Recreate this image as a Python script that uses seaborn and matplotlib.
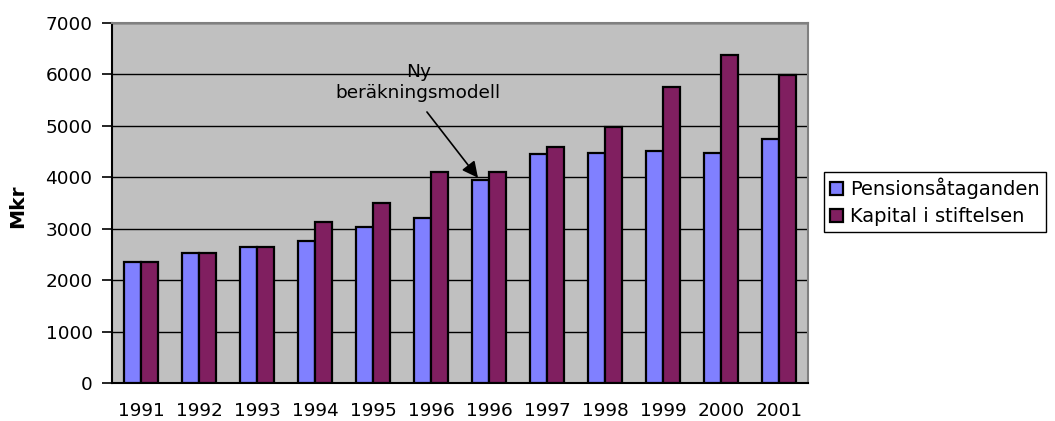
import matplotlib
matplotlib.use("Agg")
import matplotlib.pyplot as plt
import seaborn as sns
import pandas as pd
from matplotlib.ticker import MultipleLocator

years = ["1991", "1992", "1993", "1994", "1995", "1996", "1996",
         "1997", "1998", "1999", "2000", "2001"]
pension = [2360, 2520, 2640, 2770, 3030, 3210, 3950, 4450, 4470, 4520, 4470, 4740]
kapital = [2360, 2520, 2640, 3140, 3500, 4100, 4100, 4590, 4980, 5760, 6380, 5990]
series_names = ["Pensionsåtaganden", "Kapital i stiftelsen"]
colors = ["#8080FF", "#801F60"]

slots = list(range(len(years)))
df = pd.DataFrame({
    "slot": slots * 2,
    "value": pension + kapital,
    "series": [series_names[0]] * len(slots) + [series_names[1]] * len(slots),
})

sns.set_style("white")
plt.rcParams["font.family"] = ["DejaVu Sans"]
plt.rcParams["text.color"] = "black"
plt.rcParams["axes.labelcolor"] = "black"
plt.rcParams["xtick.color"] = "black"
plt.rcParams["ytick.color"] = "black"

FS = 13.3

fig = plt.figure(figsize=(10.55, 4.21), dpi=100)
ax = fig.add_axes([112 / 1055, 1 - 383 / 421, (808 - 112) / 1055, (383 - 23) / 421])
ax.set_facecolor("#C0C0C0")

sns.barplot(data=df, x="slot", y="value", hue="series", palette=colors,
            width=0.58, edgecolor="black", linewidth=1.6, ax=ax, zorder=3,
            saturation=1, legend=True)

ax.set_xlim(-0.5, len(years) - 0.5)
ax.set_ylim(0, 7000)
ax.yaxis.set_major_locator(MultipleLocator(1000))
ax.grid(axis="y", color="black", linewidth=1.0, zorder=0)
ax.set_axisbelow(True)

ax.set_xticks(slots)
ax.set_xticklabels(years, fontsize=FS)
ax.set_xticks([s - 0.5 for s in slots] + [len(years) - 0.5], minor=True)
ax.tick_params(axis="x", which="major", length=0, pad=14)
ax.tick_params(axis="x", which="minor", length=8, direction="inout", width=1.2, color="black")
ax.tick_params(axis="y", which="major", length=7, direction="out", width=1.2,
               color="black", labelsize=FS, pad=7, left=True)
ax.set_xlabel("")
ax.set_ylabel("Mkr", fontsize=14.5, fontweight="bold")
ax.yaxis.set_label_coords(-(112 - 27) / 696, 0.49)

for side in ["left", "bottom"]:
    ax.spines[side].set_color("black")
    ax.spines[side].set_linewidth(1.5)
for side in ["top", "right"]:
    ax.spines[side].set_color("#808080")
    ax.spines[side].set_linewidth(1.5)

ax.text(4.78, 5843, "Ny\nberäkningsmodell", ha="center", va="center",
        fontsize=FS, linespacing=1.15, zorder=5)
ax.annotate("", xy=(5.81, 3990), xytext=(4.93, 5270), zorder=5,
            arrowprops=dict(arrowstyle="-|>", color="black", lw=1.2,
                            mutation_scale=24, shrinkA=0, shrinkB=0))

handles, labels = ax.get_legend_handles_labels()
ax.legend_.remove()
leg = fig.legend(handles, labels, loc="upper left",
                 bbox_to_anchor=(824 / 1055, 1 - 172 / 421),
                 fontsize=14, frameon=True, fancybox=False, framealpha=1,
                 edgecolor="black", handlelength=0.7, handleheight=0.7,
                 handletextpad=0.35, borderpad=0.3, labelspacing=0.4,
                 borderaxespad=0)
leg.get_frame().set_linewidth(1.0)

fig.savefig("out.png", dpi=100)
